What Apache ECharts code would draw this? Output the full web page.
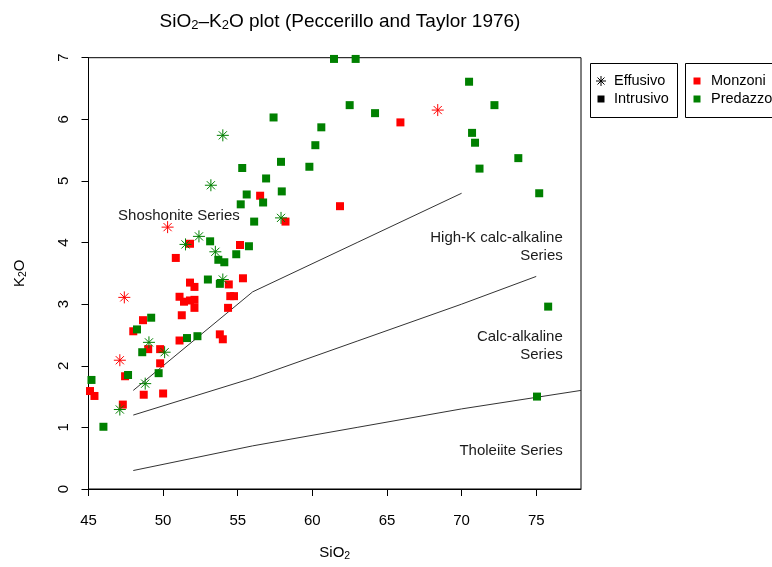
<!DOCTYPE html>
<html>
<head>
<meta charset="utf-8">
<script src="https://cdn.jsdelivr.net/npm/echarts@6/dist/echarts.min.js"></script>
<style>
  html, body { margin: 0; padding: 0; background: #fff; }
  #chart { width: 772px; height: 567px; }
</style>
</head>
<body>
<div id="chart"></div>
<script>
// SiO2 (wt%) vs K2O (wt%) samples, split by locality and rock type
const monzoniEffusivo = [
  [50.3, 4.25], [47.4, 3.11], [47.1, 2.09], [68.4, 6.15]
];
const predazzoEffusivo = [
  [54.0, 5.74], [53.2, 4.93], [51.5, 3.97], [52.4, 4.10], [53.5, 3.85],
  [54.0, 3.40], [57.9, 4.40], [49.05, 2.38], [50.1, 2.22], [48.8, 1.71],
  [47.1, 1.29]
];
const monzoniIntrusivo = [
  [61.85, 4.59], [65.9, 5.95], [58.2, 4.34], [56.5, 4.76], [51.8, 3.98],
  [50.85, 3.75], [55.15, 3.96], [55.35, 3.42], [51.8, 3.35], [52.1, 3.28],
  [54.4, 3.32], [51.1, 3.12], [51.4, 3.04], [51.8, 3.06], [52.1, 3.07],
  [52.1, 2.94], [54.5, 3.13], [54.75, 3.13], [54.35, 2.94], [51.25, 2.82],
  [48.65, 2.74], [48.0, 2.56], [51.1, 2.41], [53.8, 2.51], [54.0, 2.43],
  [49.0, 2.27], [49.8, 2.27], [49.8, 2.04], [47.45, 1.83], [45.1, 1.59],
  [45.4, 1.51], [47.3, 1.37], [48.7, 1.53], [50.0, 1.55]
];
const predazzoIntrusivo = [
  [61.45, 6.98], [62.9, 6.98], [62.5, 6.23], [64.2, 6.10], [57.4, 6.03],
  [60.6, 5.87], [60.2, 5.58], [57.9, 5.31], [59.8, 5.23], [57.95, 4.83],
  [70.5, 6.61], [72.2, 6.23], [70.7, 5.78], [70.9, 5.62], [73.8, 5.37],
  [71.2, 5.20], [75.2, 4.80], [75.8, 2.96], [75.05, 1.50], [55.3, 5.21],
  [56.9, 5.04], [55.6, 4.78], [55.2, 4.62], [56.7, 4.65], [56.1, 4.34],
  [53.15, 4.02], [55.75, 3.94], [54.9, 3.81], [53.7, 3.72], [54.1, 3.68],
  [53.0, 3.40], [53.8, 3.33], [49.2, 2.78], [48.25, 2.59], [51.6, 2.45],
  [52.3, 2.48], [48.6, 2.22], [49.7, 1.88], [47.65, 1.85], [45.2, 1.77],
  [46.0, 1.01]
];

// Series boundaries (Peccerillo & Taylor 1976)
const tholeiiteBoundary = [[48, 0.3], [52, 0.5], [56, 0.7], [63, 1.0], [70, 1.3], [78, 1.6]];
const calcAlkalineBoundary = [[48, 1.2], [52, 1.5], [56, 1.8], [63, 2.4], [70, 3.0], [75, 3.45]];
const highKBoundary = [[48, 1.6], [52, 2.4], [56, 3.2], [63, 4.0], [70, 4.8]];

// Field names and their anchor points
const fieldLabels = [
  { text: 'Shoshonite Series', at: [46.98, 4.44], align: 'left' },
  { text: 'High-K calc-alkaline\nSeries', at: [76.78, 3.93], align: 'right' },
  { text: 'Calc-alkaline\nSeries', at: [76.78, 2.33], align: 'right' },
  { text: 'Tholeiite Series', at: [76.78, 0.62], align: 'right' }
];

const xTicks = [45, 50, 55, 60, 65, 70, 75];

const RED = '#ff0000';
const GREEN = '#008000';
const FONT = '"Liberation Sans", Arial, sans-serif';
const ASTERISK = 'path://M5,0L5,10M0,5L10,5M1.6,1.6L8.4,8.4M1.6,8.4L8.4,1.6';

function starSeries(name, data, color) {
  return {
    name, type: 'scatter', data, symbol: ASTERISK, symbolSize: 12,
    itemStyle: { color: 'none', borderColor: color, borderWidth: 1, opacity: 1 },
    clip: true, z: 4
  };
}
function squareSeries(name, data, color) {
  return {
    name, type: 'scatter', data, symbol: 'rect', symbolSize: 8,
    itemStyle: { color, opacity: 1 }, clip: true, z: 3
  };
}
function boundary(data) {
  return {
    type: 'line', data, symbol: 'none', silent: true,
    lineStyle: { color: '#333', width: 1 }, z: 2
  };
}
function keyLine(x1, y1, x2, y2) {
  return { type: 'line', shape: { x1, y1, x2, y2 }, style: { stroke: '#000', lineWidth: 1 } };
}
function keyText(x, y, text) {
  return { type: 'text', x, y, style: { text, font: '14.5px ' + FONT, fill: '#000', verticalAlign: 'middle' } };
}

const chart = echarts.init(document.getElementById('chart'));
const sub = { fontSize: 10.5, padding: [7, 0, 0, 0], fontFamily: FONT, color: '#000', fontWeight: 'normal' };
const norm = (size) => ({ fontSize: size, fontFamily: FONT, color: '#000', fontWeight: 'normal' });

chart.setOption({
  animation: false,
  backgroundColor: '#fff',
  title: {
    text: '{a|SiO}{s|2}{a|–K}{s|2}{a|O plot (Peccerillo and Taylor 1976)}',
    left: 335, top: 6, textAlign: 'center',
    textStyle: { fontWeight: 'normal', rich: { a: norm(19), s: Object.assign({}, sub, { fontSize: 13, padding: [8, 0, 0, 0] }) } }
  },
  grid: {
    left: 88.5, top: 57.7, right: 191, bottom: 74,
    show: true, borderColor: '#000', borderWidth: 1, backgroundColor: 'transparent'
  },
  xAxis: {
    type: 'value', min: 45, max: 78,
    name: '{a|SiO}{s|2}', nameLocation: 'middle', nameGap: 55,
    nameTextStyle: { rich: { a: norm(15), s: sub } },
    axisLine: { show: true, lineStyle: { color: '#000' } },
    axisTick: { show: true, length: 7, lineStyle: { color: '#000' }, customValues: xTicks },
    axisLabel: { color: '#000', fontSize: 15, fontFamily: FONT, margin: 24, customValues: xTicks },
    splitLine: { show: false }
  },
  yAxis: {
    type: 'value', min: 0, max: 7, interval: 1,
    name: '{a|K}{s|2}{a|O}', nameLocation: 'middle', nameGap: 60, nameRotate: 90,
    nameTextStyle: { rich: { a: norm(15), s: sub } },
    axisLine: { show: true, lineStyle: { color: '#000' } },
    axisTick: { show: true, length: 7, lineStyle: { color: '#000' } },
    axisLabel: { color: '#000', fontSize: 15, fontFamily: FONT, margin: 17, rotate: 90 },
    splitLine: { show: false }
  },
  series: [
    boundary(tholeiiteBoundary),
    boundary(calcAlkalineBoundary),
    boundary(highKBoundary),
    {
      type: 'scatter', silent: true, symbolSize: 0, z: 5,
      itemStyle: { opacity: 1 },
      data: fieldLabels.map(f => ({
        value: f.at,
        label: {
          show: true, position: 'inside', formatter: f.text, align: f.align,
          verticalAlign: 'middle', fontSize: 15, lineHeight: 18,
          fontFamily: FONT, color: '#1a1a1a', opacity: 1
        }
      }))
    },
    squareSeries('Monzoni Intrusivo', monzoniIntrusivo, RED),
    squareSeries('Predazzo Intrusivo', predazzoIntrusivo, GREEN),
    starSeries('Monzoni Effusivo', monzoniEffusivo, RED),
    starSeries('Predazzo Effusivo', predazzoEffusivo, GREEN)
  ],
  graphic: [
    // rock type key
    { type: 'rect', shape: { x: 590.5, y: 63.5, width: 87, height: 54 },
      style: { fill: '#fff', stroke: '#000', lineWidth: 1 } },
    keyLine(601, 76, 601, 86), keyLine(596, 81, 606, 81),
    keyLine(597.5, 77.5, 604.5, 84.5), keyLine(597.5, 84.5, 604.5, 77.5),
    keyText(614, 81, 'Effusivo'),
    { type: 'rect', shape: { x: 597.5, y: 95.5, width: 7, height: 7 }, style: { fill: '#000' } },
    keyText(614, 99, 'Intrusivo'),
    // locality key
    { type: 'rect', shape: { x: 685.5, y: 63.5, width: 100, height: 54 },
      style: { fill: '#fff', stroke: '#000', lineWidth: 1 } },
    { type: 'rect', shape: { x: 693.5, y: 77.5, width: 7, height: 7 }, style: { fill: RED } },
    keyText(711, 81, 'Monzoni'),
    { type: 'rect', shape: { x: 693.5, y: 95.5, width: 7, height: 7 }, style: { fill: GREEN } },
    keyText(711, 99, 'Predazzo')
  ]
});
</script>
</body>
</html>
